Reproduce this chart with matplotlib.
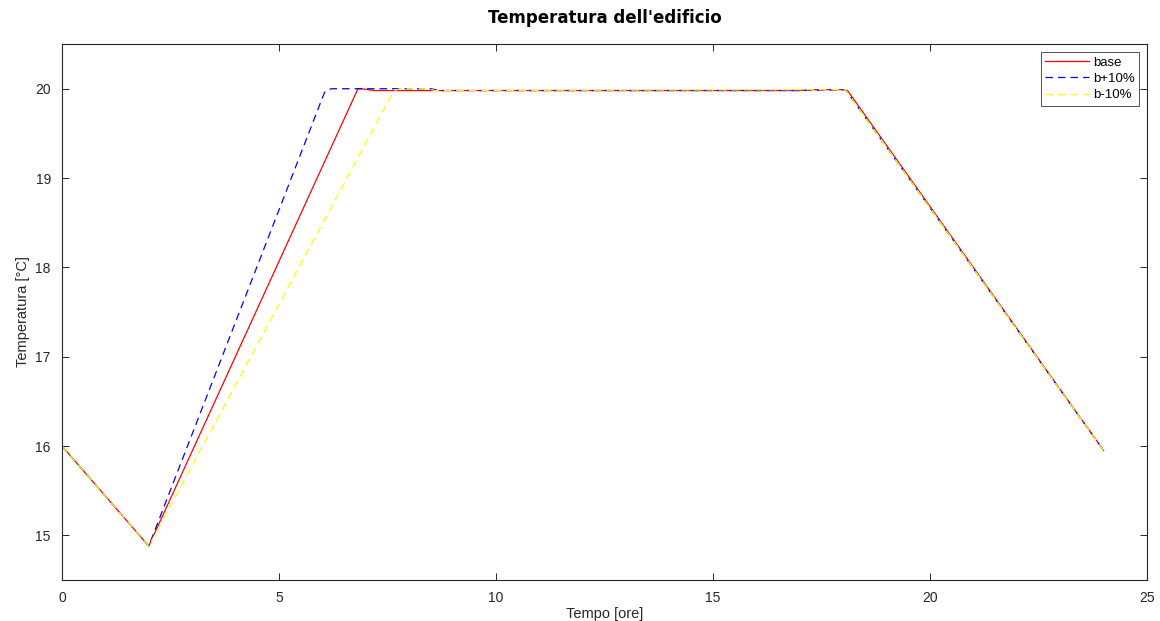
import matplotlib.pyplot as plt

# time [h] and temperature [degC] breakpoints
t_base = [0, 2.0, 6.82, 6.9, 7.2, 8.5, 17.0, 17.3, 18.0, 18.1, 24.0]
T_base = [16.0, 14.88, 20.0, 20.0, 19.98, 19.98, 19.98, 19.99, 19.99, 19.98, 15.95]

t_plus = [0, 2.0, 6.05, 6.2, 6.35, 8.5, 8.7, 17.0, 18.05, 24.0]
T_plus = [16.0, 14.88, 19.96, 20.0, 20.0, 20.0, 19.98, 19.98, 19.99, 15.95]

t_minus = [0, 2.0, 7.65, 7.8, 8.4, 8.6, 18.05, 24.0]
T_minus = [16.0, 14.88, 19.98, 20.0, 20.0, 19.98, 19.99, 15.95]

plt.rcParams['font.family'] = ['Liberation Sans', 'DejaVu Sans']

fig = plt.figure(figsize=(11.6, 6.21), dpi=100)
ax = fig.add_axes([0.0534, 0.066, 0.9354, 0.863])

ax.plot(t_base, T_base, color="#ff0000", lw=0.9, label="base")
ax.plot(t_plus, T_plus, color="#0000ff", lw=0.9, ls=(0, (6, 4)), label="b+10%")
ax.plot(t_minus, T_minus, color="#ffff00", lw=0.9, ls=(0, (6, 4)), label="b-10%")

ax.set_xlim(0, 25)
ax.set_ylim(14.5, 20.5)
ax.set_xticks([0, 5, 10, 15, 20, 25])
ax.set_yticks([15, 16, 17, 18, 19, 20])
ax.tick_params(direction="in", length=5, width=0.7, top=True, right=True,
               labelsize=10, colors="#262626", pad=8)
for s in ax.spines.values():
    s.set_color("#262626")
    s.set_linewidth(0.8)

ax.set_xlabel("Tempo [ore]", fontsize=10.5, color="#262626", labelpad=1)
ax.set_ylabel("Temperatura [°C]", fontsize=10.5, color="#262626", labelpad=4)
ax.set_title("Temperatura dell'edificio", fontsize=12, fontweight="bold",
             family=["DejaVu Sans"], pad=15)

leg = ax.legend(loc="upper right", fontsize=9.5, frameon=True, fancybox=False,
                edgecolor="#262626", borderaxespad=0.6, handlelength=3.3,
                handletextpad=0.3, borderpad=0.35, labelspacing=0.3)
leg.get_frame().set_linewidth(0.7)

fig.savefig("out.png", dpi=100)
